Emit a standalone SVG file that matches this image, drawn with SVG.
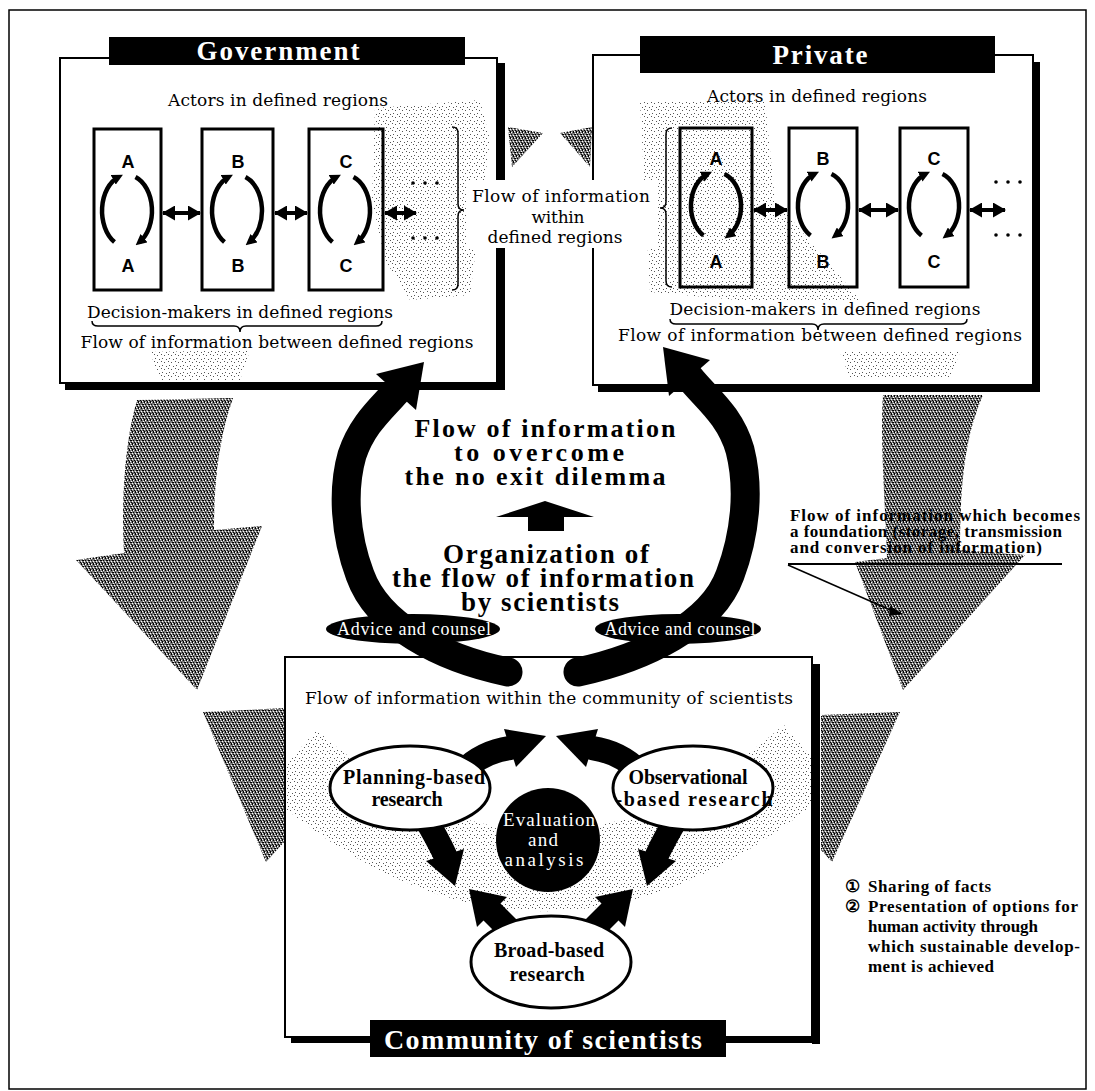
<svg xmlns="http://www.w3.org/2000/svg" width="1095" height="1091" viewBox="0 0 1095 1091">
<defs>
<style>
.ser{font-family:"DejaVu Serif","Liberation Serif",serif;}
.tim{font-family:"Liberation Serif","Times New Roman",serif;}
.b{font-weight:bold;}
.sans{font-family:"Liberation Sans",Arial,sans-serif;font-weight:bold;}
.box{fill:#fff;stroke:#000;stroke-width:2;}
.sbox{fill:none;stroke:#000;stroke-width:3;}
.arc{fill:none;stroke:#000;stroke-width:4.5;marker-end:url(#sa);}
.dbl{stroke:#000;stroke-width:4;marker-start:url(#dh);marker-end:url(#dh);}
.brace{fill:none;stroke:#000;stroke-width:1.5;}
.blk{fill:none;stroke:#000;stroke-linecap:round;}
.ell{fill:#fff;stroke:#000;stroke-width:3;}
</style>
<marker id="dh" markerUnits="userSpaceOnUse" markerWidth="13" markerHeight="15" refX="12" refY="7.5" orient="auto-start-reverse"><path d="M0,0 L13,7.5 L0,15 z" fill="#000"/></marker>
<marker id="sa" markerUnits="userSpaceOnUse" markerWidth="11" markerHeight="11" refX="6" refY="5.5" orient="auto"><path d="M0,0 L11,5.5 L0,11 z" fill="#000"/></marker>
<pattern id="dk" width="6" height="6" patternUnits="userSpaceOnUse">
<rect width="6" height="6" fill="#7a7a7a"/>
<path fill="#000" d="M0 0h1v1H0zM3 0h1v1H3zM1 2h1v1H1zM4 2h2v1H4zM2 4h1v1H2zM5 4h1v1H5zM0 5h1v1H0zM3 5h1v1H3z"/>
<path fill="#fff" d="M1 0h1v1H1zM5 1h1v1H5zM3 3h1v1H3zM0 3h1v1H0zM4 5h1v1H4z"/>
</pattern>
<pattern id="lt" width="7" height="7" patternUnits="userSpaceOnUse">
<path fill="#555" d="M1 1h1v1H1zM5 2h1v1H5zM3 5h1v1H3zM0 4h1v1H0z"/>
</pattern>
<clipPath id="cbox"><rect x="286" y="658" width="525" height="378"/></clipPath>
</defs>
<rect width="1095" height="1091" fill="#fff"/>
<rect x="9" y="10" width="1077" height="1079" fill="none" stroke="#000" stroke-width="1.5"/>

<g id="grey-flows">
<path d="M137 400 L233 398 C222 430 214 470 214 530 L262 526 L197 690 L76 560 L124 553 C121 500 125 440 137 400 Z" fill="url(#dk)"/>
<path d="M883 395 L983 395 C968 430 960 470 960 550 L1025 555 L903 690 L855 562 L887 558 C885 500 880 440 883 395 Z" fill="url(#dk)"/>
<path d="M203 712 L286 708 L286 840 L266 862 Z" fill="url(#dk)"/>
<path d="M821 715 L900 712 L832 862 L821 850 Z" fill="url(#dk)"/>
<path d="M508 127 L543 133 L512 167 Z" fill="url(#dk)"/>
<path d="M560 133 L592 127 L590 167 Z" fill="url(#dk)"/>
</g>

<g id="government">
<rect x="497" y="63" width="8" height="327" fill="#000"/>
<rect x="65" y="383" width="440" height="7" fill="#000"/>
<rect class="box" x="60" y="58" width="437" height="325"/>
<path d="M375 108 L480 100 L490 140 L470 295 L410 300 L385 260 L372 200 Z" fill="url(#lt)"/>
<path d="M150 352 L250 350 L240 380 L160 380 Z" fill="url(#lt)"/>
<rect x="109" y="37" width="356" height="28" fill="#000"/>
<text class="tim b" x="278" y="60" font-size="27" fill="#fff" text-anchor="middle" textLength="163">Government</text>
<text class="ser" x="278" y="106" font-size="17" text-anchor="middle" textLength="220">Actors in defined regions</text>
<rect class="sbox" x="94" y="129" width="67" height="161"/>
<rect class="sbox" x="202" y="129" width="71" height="161"/>
<rect class="sbox" x="309" y="129" width="74" height="161"/>
<text class="sans" font-size="18" text-anchor="middle" x="128" y="168">A</text>
<text class="sans" font-size="18" text-anchor="middle" x="128" y="272">A</text>
<text class="sans" font-size="18" text-anchor="middle" x="238" y="168">B</text>
<text class="sans" font-size="18" text-anchor="middle" x="238" y="272">B</text>
<text class="sans" font-size="18" text-anchor="middle" x="346" y="168">C</text>
<text class="sans" font-size="18" text-anchor="middle" x="346" y="272">C</text>
<path class="arc" d="M114.5 242 A25 36 0 0 1 118.5 177"/>
<path class="arc" d="M135.5 177 A25 36 0 0 1 139.5 242"/>
<path class="arc" d="M224.5 242 A25 36 0 0 1 228.5 177"/>
<path class="arc" d="M245.5 177 A25 36 0 0 1 249.5 242"/>
<path class="arc" d="M332.5 242 A25 36 0 0 1 336.5 177"/>
<path class="arc" d="M353.5 177 A25 36 0 0 1 357.5 242"/>
<line class="dbl" x1="163" y1="213" x2="200" y2="213"/>
<line class="dbl" x1="275" y1="213" x2="307" y2="213"/>
<line class="dbl" x1="385" y1="213" x2="416" y2="213"/>
<g fill="#000"><circle cx="413" cy="183" r="1.8"/><circle cx="425" cy="183" r="1.8"/><circle cx="437" cy="183" r="1.8"/><circle cx="413" cy="238" r="1.8"/><circle cx="425" cy="238" r="1.8"/><circle cx="437" cy="238" r="1.8"/></g>
<path class="brace" d="M452 127 q6 0 6 6 L458 204 q0 6 6 6 q-6 0 -6 6 L458 284 q0 6 -6 6"/>
<text class="ser" x="240" y="318" font-size="17" text-anchor="middle" textLength="306">Decision-makers in defined regions</text>
<path class="brace" d="M92 321 q0 5 6 5 L234 326 q6 0 6 6 q0 -6 6 -6 L376 326 q6 0 6 -5"/>
<text class="ser" x="277" y="348" font-size="17" text-anchor="middle" textLength="393">Flow of information between defined regions</text>
</g>

<g id="private">
<rect x="1033" y="62" width="7" height="330" fill="#000"/>
<rect x="598" y="385" width="442" height="7" fill="#000"/>
<rect class="box" x="593" y="55" width="440" height="330"/>
<path d="M640 102 L765 100 L775 200 L860 300 L760 302 L650 292 Z" fill="url(#lt)"/>
<path d="M840 352 L960 352 L950 378 L850 378 Z" fill="url(#lt)"/>
<rect x="640" y="36" width="355" height="37" fill="#000"/>
<text class="tim b" x="820" y="64" font-size="27" fill="#fff" text-anchor="middle" textLength="95">Private</text>
<text class="ser" x="817" y="102" font-size="17" text-anchor="middle" textLength="220">Actors in defined regions</text>
<rect class="sbox" x="680" y="128" width="72" height="159"/>
<rect class="sbox" x="789" y="128" width="68" height="159"/>
<rect class="sbox" x="900" y="128" width="68" height="159"/>
<text class="sans" font-size="18" text-anchor="middle" x="716" y="165">A</text>
<text class="sans" font-size="18" text-anchor="middle" x="716" y="268">A</text>
<text class="sans" font-size="18" text-anchor="middle" x="823" y="165">B</text>
<text class="sans" font-size="18" text-anchor="middle" x="823" y="268">B</text>
<text class="sans" font-size="18" text-anchor="middle" x="934" y="165">C</text>
<text class="sans" font-size="18" text-anchor="middle" x="934" y="268">C</text>
<path class="arc" d="M703.5 235.5 A25 34 0 0 1 707.5 174"/>
<path class="arc" d="M724.5 174 A25 34 0 0 1 728.5 235.5"/>
<path class="arc" d="M810.5 235.5 A25 34 0 0 1 814.5 174"/>
<path class="arc" d="M831.5 174 A25 34 0 0 1 835.5 235.5"/>
<path class="arc" d="M921.5 235.5 A25 34 0 0 1 925.5 174"/>
<path class="arc" d="M942.5 174 A25 34 0 0 1 946.5 235.5"/>
<line class="dbl" x1="754" y1="210" x2="787" y2="210"/>
<line class="dbl" x1="859" y1="210" x2="898" y2="210"/>
<line class="dbl" x1="970" y1="210" x2="1005" y2="210"/>
<g fill="#000"><circle cx="996" cy="182" r="1.8"/><circle cx="1008" cy="182" r="1.8"/><circle cx="1020" cy="182" r="1.8"/><circle cx="996" cy="235" r="1.8"/><circle cx="1008" cy="235" r="1.8"/><circle cx="1020" cy="235" r="1.8"/></g>
<path class="brace" d="M672 128 q-6 0 -6 6 L666 202 q0 6 -6 6 q6 0 6 6 L666 281 q0 6 6 6"/>
<text class="ser" x="825" y="315" font-size="17" text-anchor="middle" textLength="311">Decision-makers in defined regions</text>
<path class="brace" d="M670 319 q0 5 6 5 L812 324 q6 0 6 6 q0 -6 6 -6 L961 324 q6 0 6 -5"/>
<text class="ser" x="820" y="341" font-size="17" text-anchor="middle" textLength="404">Flow of information between defined regions</text>
</g>

<g id="within-regions">
<rect x="467" y="180" width="190" height="68" fill="#fff"/>
<text class="ser" font-size="17" text-anchor="middle"><tspan x="561" y="202" textLength="178">Flow of information</tspan><tspan x="558" y="223" textLength="53">within</tspan><tspan x="555" y="243" textLength="135">defined regions</tspan></text>
</g>

<g id="community">
<rect x="812" y="664" width="8" height="380" fill="#000"/>
<rect x="291" y="1037" width="529" height="6" fill="#000"/>
<rect class="box" x="285" y="657" width="527" height="380"/>
<path d="M290 760 Q545 985 810 755" fill="none" stroke="url(#lt)" stroke-width="80" clip-path="url(#cbox)"/>
<text class="ser" x="549" y="704" font-size="17" text-anchor="middle" textLength="488">Flow of information within the community of scientists</text>
<rect x="370" y="1020" width="356" height="37" fill="#000"/>
<text class="tim b" x="543" y="1049" font-size="28" fill="#fff" text-anchor="middle" textLength="318">Community of scientists</text>
</g>

<g id="connectors">
<path class="blk" stroke-width="24" d="M462 772 Q482 752 510 748"/>
<polygon points="546,736 516,767 504,729"/>
<path class="blk" stroke-width="24" d="M640 772 Q620 752 592 748"/>
<polygon points="556,736 586,767 598,729"/>
<path class="blk" stroke-width="24" d="M425 818 Q437 838 445 855"/>
<polygon points="455,886 464,849 426,861"/>
<path class="blk" stroke-width="24" d="M677 818 Q665 838 657 855"/>
<polygon points="647,886 638,849 676,861"/>
<path class="blk" stroke-width="24" d="M515 935 Q505 925 492 912"/>
<polygon points="469,889 507,897 477,927"/>
<path class="blk" stroke-width="24" d="M587 935 Q597 925 610 912"/>
<polygon points="633,889 595,897 625,927"/>
<path class="blk" stroke-width="29" d="M508 672 C440 658 378 625 360 575 C345 535 342 490 352 455 C362 425 380 410 396 392"/>
<polygon points="424,362 416,410 376,374"/>
<path class="blk" stroke-width="29" d="M578 672 C644 658 712 625 730 575 C745 535 750 490 740 450 C730 415 706 398 690 378"/>
<polygon points="663,347 710,360 669,396"/>
<polygon points="545,501 594,517 564,517 564,531 528,531 528,517 496,517"/>
</g>

<g id="center-text">
<text class="tim b" font-size="26" text-anchor="middle"><tspan x="545" y="437" textLength="261">Flow of information</tspan><tspan x="539" y="461" textLength="170">to overcome</tspan><tspan x="535" y="485" textLength="261">the no exit dilemma</tspan></text>
<text class="tim b" font-size="27" text-anchor="middle"><tspan x="546" y="563" textLength="206">Organization of</tspan><tspan x="543" y="587" textLength="302">the flow of information</tspan><tspan x="540" y="611" textLength="158">by scientists</tspan></text>
</g>

<g id="advice-left">
<ellipse cx="413" cy="629" rx="87" ry="15" fill="#000"/>
<text class="tim" x="414" y="635" font-size="18" fill="#fff" text-anchor="middle" textLength="154">Advice and counsel</text>
</g>
<g id="advice-right">
<ellipse cx="678" cy="629" rx="83" ry="15" fill="#000"/>
<text class="tim" x="680" y="635" font-size="18" fill="#fff" text-anchor="middle" textLength="151">Advice and counsel</text>
</g>

<g id="planning">
<ellipse class="ell" cx="410" cy="788" rx="80" ry="42"/>
<text class="tim b" font-size="20" text-anchor="middle"><tspan x="414" y="784" textLength="142">Planning-based</tspan><tspan x="407" y="806" textLength="71">research</tspan></text>
</g>
<g id="observational">
<ellipse class="ell" cx="693" cy="788" rx="80" ry="42"/>
<text class="tim b" font-size="20" text-anchor="middle"><tspan x="688" y="784" textLength="119">Observational</tspan><tspan x="694" y="806" textLength="157">-based research</tspan></text>
</g>
<g id="evaluation">
<circle cx="548" cy="840" r="52" fill="#000"/>
<text class="tim" font-size="19" fill="#fff" text-anchor="middle"><tspan x="549" y="826" textLength="92">Evaluation</tspan><tspan x="543" y="846" textLength="30">and</tspan><tspan x="544" y="866" textLength="79">analysis</tspan></text>
</g>
<g id="broad">
<ellipse class="ell" cx="551" cy="962" rx="80" ry="46"/>
<text class="tim b" font-size="20" text-anchor="middle"><tspan x="549" y="957" textLength="110">Broad-based</tspan><tspan x="547" y="981" textLength="75">research</tspan></text>
</g>

<g id="annotation">
<text class="tim b" font-size="17"><tspan x="790" y="521" textLength="290">Flow of information which becomes</tspan><tspan x="790" y="537" textLength="272">a foundation (storage, transmission</tspan><tspan x="790" y="553" textLength="252">and conversion of information)</tspan></text>
<line x1="788" y1="564" x2="1062" y2="564" stroke="#000" stroke-width="2"/>
<line x1="788" y1="565" x2="895" y2="612" stroke="#000" stroke-width="1.5"/>
<polygon points="890,606 903,614 889,616" fill="#000"/>
</g>

<g id="legend">
<text class="tim b" font-size="17"><tspan x="845" y="892">①</tspan><tspan x="868" y="892" textLength="123">Sharing of facts</tspan><tspan x="845" y="912">②</tspan><tspan x="868" y="912" textLength="210">Presentation of options for</tspan><tspan x="868" y="932" textLength="170">human activity through</tspan><tspan x="868" y="952" textLength="212">which sustainable develop-</tspan><tspan x="868" y="972" textLength="126">ment is achieved</tspan></text>
</g>
</svg>
